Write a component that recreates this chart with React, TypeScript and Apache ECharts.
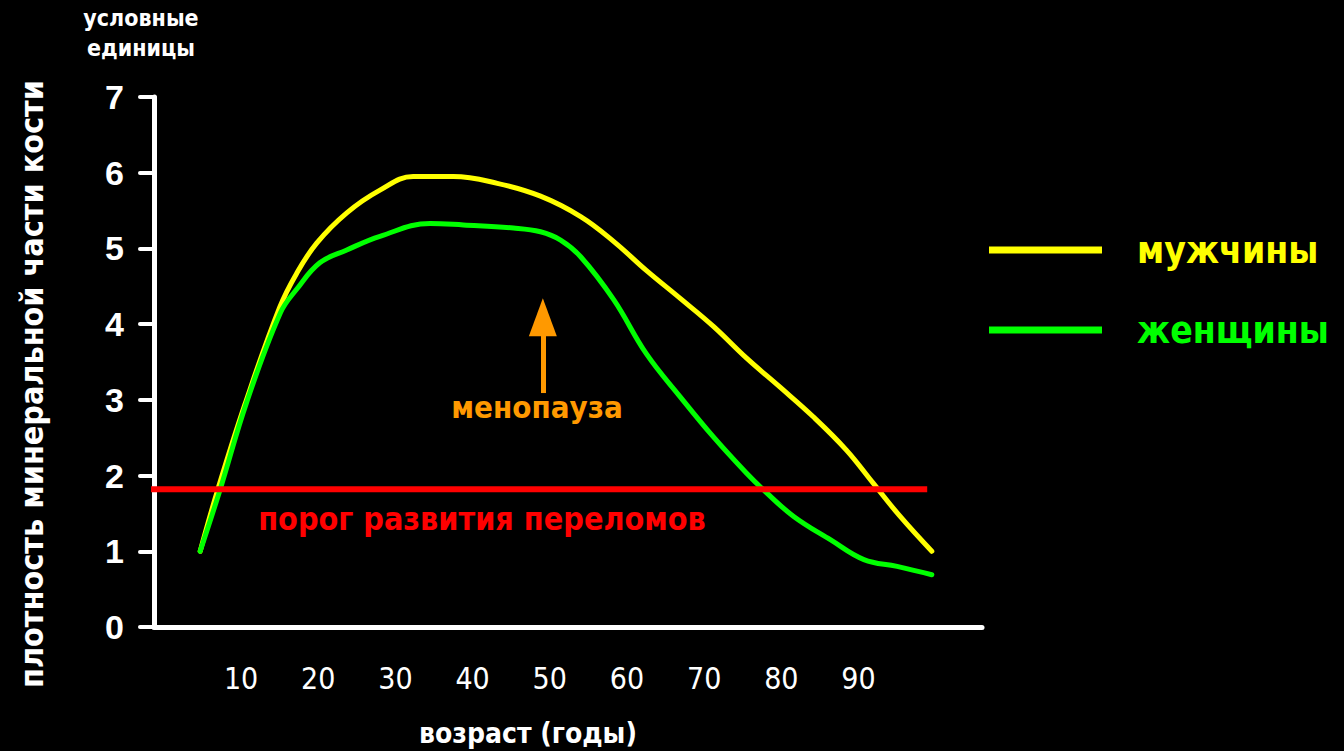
import React, { useEffect, useRef } from "react";
import * as echarts from "echarts";

// ---- data (age in years, bone mineral density in conventional units) ----
const menData: [number, number][] = [
  [4.7, 1.0], [7, 1.82], [10.5, 2.94], [15, 4.22], [17.2, 4.67], [19.8, 5.07],
  [23.7, 5.47], [28, 5.77], [32.3, 5.95], [37.5, 5.95], [43.2, 5.86], [48.8, 5.69],
  [54, 5.42], [58.3, 5.09], [62.5, 4.71], [66.9, 4.34], [71.2, 3.97], [75.5, 3.55],
  [79.8, 3.17], [84.1, 2.78], [88.4, 2.34], [91.9, 1.9], [95.4, 1.46], [99.5, 1.0],
];
const womenData: [number, number][] = [
  [4.7, 1.0], [7.3, 1.82], [10.7, 2.96], [15.1, 4.15], [17.2, 4.46], [20.2, 4.81],
  [23.7, 4.98], [28, 5.16], [34.5, 5.33], [38.8, 5.31], [45.3, 5.27], [48.8, 5.22],
  [51.4, 5.11], [54, 4.89], [58.3, 4.32], [62.5, 3.61], [66.9, 3.04], [71.2, 2.51],
  [75.5, 2.03], [77.7, 1.81], [81.6, 1.46], [86.4, 1.15], [90.7, 0.89], [95, 0.8],
  [99.5, 0.69],
];
const thresholdValue = 1.82;
const thresholdAges = [-2.7, 98.9];
const menopauseAge = 49.1;
const menopauseArrow = [3.09, 4.09];
const xTickLabels = [10, 20, 30, 40, 50, 60, 70, 80, 90];
const seriesNames = ["мужчины", "женщины"];
const seriesColors = ["#FFFF00", "#00FF00"];

const CYR = "'DejaVu Sans Condensed', 'DejaVu Sans', sans-serif";

export default function App() {
  const ref = useRef<HTMLDivElement>(null);
  useEffect(() => {
    document.body.style.margin = "0";
    document.body.style.background = "#000";
    const chart = echarts.init(ref.current!, null, { renderer: "svg" });
    chart.setOption({
      animation: false,
      backgroundColor: "#000000",
      grid: { left: 154, top: 97, right: 362, bottom: 124 },
      xAxis: {
        type: "value",
        min: -1.28,
        max: 106,
        splitLine: { show: false },
        axisTick: { show: false },
        axisLine: { show: true, onZero: false, lineStyle: { color: "#FFFFFF", width: 5, cap: "round" } },
        axisLabel: {
          customValues: xTickLabels,
          color: "#FFFFFF",
          fontSize: 30,
          fontFamily: "'Liberation Sans Narrow', 'DejaVu Sans Condensed', sans-serif",
          margin: 36,
        },
      },
      yAxis: {
        type: "value",
        min: 0,
        max: 7,
        interval: 1,
        splitLine: { show: false },
        axisLine: { show: true, onZero: false, lineStyle: { color: "#FFFFFF", width: 5 } },
        axisTick: { show: true, length: 14, lineStyle: { color: "#FFFFFF", width: 4, cap: "round" } },
        axisLabel: {
          color: "#FFFFFF",
          fontSize: 34,
          fontWeight: "bold",
          fontFamily: "'Liberation Sans', Arial, sans-serif",
          margin: 30,
        },
      },
      legend: {
        orient: "vertical",
        left: 984,
        top: 223,
        itemWidth: 113,
        itemHeight: 7,
        itemGap: 36,
        icon: "rect",
        textStyle: {
          fontSize: 37,
          fontWeight: "bold",
          fontFamily: CYR,
          lineHeight: 44,
          padding: [0, 0, 0, 30],
        },
        data: seriesNames.map((n, i) => ({ name: n, textStyle: { color: seriesColors[i] } })),
      },
      series: [
        {
          name: seriesNames[0],
          type: "line",
          smooth: 0.4,
          showSymbol: false,
          data: menData,
          lineStyle: { color: seriesColors[0], width: 5, cap: "round" },
          itemStyle: { color: seriesColors[0] },
        },
        {
          name: seriesNames[1],
          type: "line",
          smooth: 0.4,
          showSymbol: false,
          data: womenData,
          lineStyle: { color: seriesColors[1], width: 5, cap: "round" },
          itemStyle: { color: seriesColors[1] },
          markLine: {
            silent: true,
            symbol: ["none", "triangle"],
            label: { show: false },
            lineStyle: { color: "#FF9900", width: 5, type: "solid" },
            data: [
              [
                { coord: [menopauseAge, menopauseArrow[0]], symbol: "none" },
                { coord: [menopauseAge, menopauseArrow[1]], symbol: "triangle", symbolSize: [28, 38] },
              ],
            ],
          },
        },
        {
          name: "порог",
          type: "line",
          clip: false,
          showSymbol: false,
          data: thresholdAges.map((a) => [a, thresholdValue]),
          lineStyle: { color: "#FF0000", width: 6 },
          itemStyle: { color: "#FF0000" },
          z: 3,
        },
      ],
      graphic: [
        {
          type: "text",
          x: 141,
          y: 33,
          style: {
            text: "условные\nединицы",
            fill: "#FFFFFF",
            fontSize: 23,
            fontWeight: "bold",
            fontFamily: CYR,
            lineHeight: 30,
            align: "center",
            verticalAlign: "middle",
          },
        },
        {
          type: "text",
          x: 32,
          y: 384,
          rotation: Math.PI / 2,
          style: {
            text: "плотность минеральной части кости",
            fill: "#FFFFFF",
            fontSize: 32,
            fontWeight: "bold",
            fontFamily: CYR,
            align: "center",
            verticalAlign: "middle",
          },
        },
        {
          type: "text",
          x: 537,
          y: 407,
          style: {
            text: "менопауза",
            fill: "#FF9900",
            fontSize: 31,
            fontWeight: "bold",
            fontFamily: CYR,
            align: "center",
            verticalAlign: "middle",
          },
        },
        {
          type: "text",
          x: 482,
          y: 519,
          style: {
            text: "порог развития переломов",
            fill: "#FF0000",
            fontSize: 32,
            fontWeight: "bold",
            fontFamily: CYR,
            align: "center",
            verticalAlign: "middle",
          },
        },
        {
          type: "text",
          x: 528,
          y: 733,
          style: {
            text: "возраст (годы)",
            fill: "#FFFFFF",
            fontSize: 28,
            fontWeight: "bold",
            fontFamily: CYR,
            align: "center",
            verticalAlign: "middle",
          },
        },
      ],
    });
    return () => chart.dispose();
  }, []);
  return (
    <div
      ref={ref}
      style={{ position: "absolute", left: 0, top: 0, width: 1344, height: 751, background: "#000" }}
    />
  );
}
